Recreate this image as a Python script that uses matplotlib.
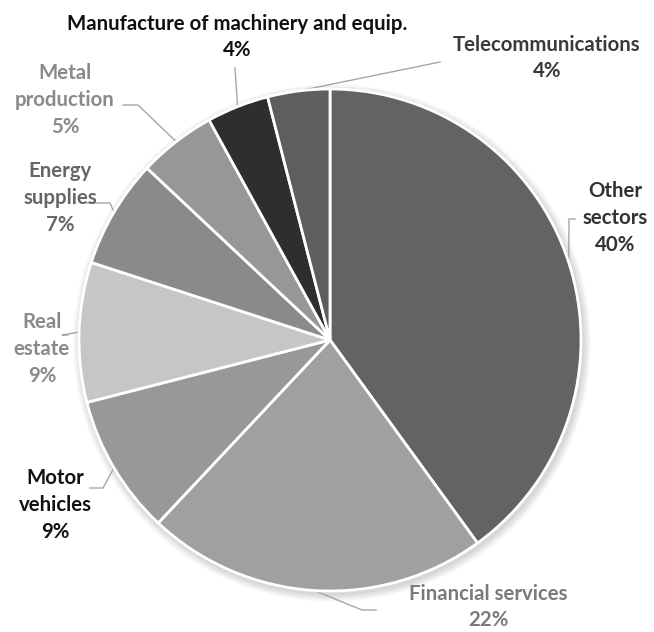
import matplotlib.pyplot as plt
import numpy as np

sectors = ["Other\nsectors", "Financial services", "Motor\nvehicles", "Real\nestate",
           "Energy\nsupplies", "Metal\nproduction", "Manufacture of machinery and equip.",
           "Telecommunications"]
shares = [40, 22, 9, 9, 7, 5, 4, 4]
wedge_colors = ["#636363", "#a0a0a0", "#989898", "#c6c6c6",
                "#8a8a8a", "#979797", "#2e2e2e", "#5e5e5e"]
label_colors = ["#333333", "#7a7a7a", "#111111", "#8a8a8a",
                "#666666", "#8a8a8a", "#111111", "#3a3a3a"]

W, H = 654, 632
cx, cy, r = 330, 340, 251

# label text centres and leader line paths, measured from the top-left corner
label_pos = [(615, 218), (488, 607), (55, 505), (42, 349),
             (60, 198), (65, 100), (237, 37), (547, 58)]
leaders = [[(575, 219), (569, 219)],
           [(376, 610), (362, 610)],
           [(90, 488), (103, 488)],
           [(68, 335), (62, 335)],
           [(87, 203), (110, 203)],
           [(123, 105), (138, 105)],
           [(235, 68)],
           [(440, 62)]]

fig = plt.figure(figsize=(W / 100, H / 100), dpi=100)
ax = fig.add_axes([0, 0, 1, 1])

# soft shadow under the pie
for k in range(8):
    ax.add_patch(plt.Circle((cx + 2, H - cy - 3), r + 1 + k, color="black",
                            alpha=0.02, zorder=0, lw=0))

wedges, _ = ax.pie(shares, colors=wedge_colors, startangle=90, counterclock=False,
                   center=(cx, H - cy), radius=r, frame=True,
                   wedgeprops=dict(edgecolor="white", linewidth=2))
for w in wedges:
    w.set_zorder(2)

ax.set_xlim(0, W)
ax.set_ylim(0, H)
ax.set_aspect("equal")
ax.axis("off")

angles = []
start = 90.0
for s in shares:
    span = s / 100 * 360
    angles.append(start - span / 2)
    start -= span

for i, name in enumerate(sectors):
    tx, ty = label_pos[i]
    ax.text(tx, H - ty, f"{name}\n{shares[i]}%", ha="center", va="center",
            fontsize=14.7, fontweight="bold", family="Lato", color=label_colors[i],
            linespacing=1.42, zorder=5)
    a = np.deg2rad(angles[i])
    ex, ey = cx + r * np.cos(a), H - cy + r * np.sin(a)
    pts = [(x, H - y) for x, y in leaders[i]] + [(ex, ey)]
    xs, ys = zip(*pts)
    ax.plot(xs, ys, color="#a6a6a6", lw=1, zorder=1)

fig.savefig("out.png", dpi=100)
